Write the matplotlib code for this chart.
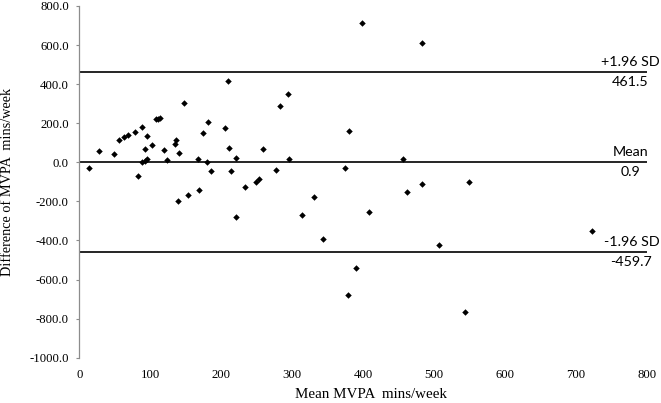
import numpy as np
import matplotlib
matplotlib.use("Agg")
import matplotlib.pyplot as plt

# Bland-Altman points: mean of the two methods vs their difference
mean_mvpa = [14, 28, 49, 56, 63, 68, 78, 83, 89, 88, 92, 92, 95, 95, 103,
             108, 111, 114, 119, 123, 148, 135, 137, 141, 168, 174, 182, 180,
             185, 206, 209, 211, 214, 221, 233, 249, 254, 259, 278, 283, 294,
             296, 331, 139, 153, 169, 221, 314, 343, 399, 483, 380, 374, 457,
             462, 483, 550, 409, 723, 507, 390, 379, 544]
diff_mvpa = [-31, 56, 41, 114, 128, 138, 155, -70, 179, 0, 68, 7, 17, 133, 87,
             220, 223, 227, 63, 12, 302, 94, 116, 46, 17, 150, 208, 0,
             -46, 174, 418, 75, -46, 24, -128, -99, -85, 70, -41, 290, 348,
             17, -176, -198, -169, -140, -280, -268, -391, 713, 609, 162, -31, 17,
             -154, -113, -101, -256, -350, -425, -543, -681, -768]

bias = 0.9
upper = 461.5
lower = -459.7

fig = plt.figure(figsize=(6.61, 4.03), dpi=100)
ax = fig.add_axes([79.3 / 661, 1 - 357.7 / 403, 567.4 / 661, 351.7 / 403])

serif = "Liberation Serif"
sans = "Lato"

ax.plot(mean_mvpa, diff_mvpa, "D", color="black", ms=3.3, mew=0)
for v in (upper, bias, lower):
    ax.axhline(v, color="black", lw=1.2)

ax.set_xlim(0, 800)
ax.set_ylim(-1000, 800)
ax.set_xticks(np.arange(0, 801, 100))
ax.set_yticks(np.arange(-1000, 801, 200))
ax.set_yticklabels([f"{t:.1f}" for t in np.arange(-1000, 801, 200)])

for s in ("top", "right", "bottom"):
    ax.spines[s].set_visible(False)
ax.spines["left"].set_color("#8c8c8c")
ax.spines["left"].set_linewidth(0.9)
ax.tick_params(axis="y", length=2.5, width=0.8, color="#8c8c8c", pad=5,
               labelsize=9.2)
ax.tick_params(axis="x", length=0, pad=8, labelsize=9.2)
for lab in ax.get_xticklabels() + ax.get_yticklabels():
    lab.set_fontfamily(serif)

fig.text(371 / 661, 1 - 394 / 403, "Mean MVPA  mins/week", ha="center",
         va="center", fontsize=10.8, family=serif)
fig.text(8 / 661, 1 - 182 / 403, "Difference of MVPA  mins/week",
         rotation=90, ha="center", va="center", fontsize=10.3, family=serif)

# labels at the right end of the lines (pixel offsets from axes right edge)
labels = [("+1.96 SD", upper, 13, 10), ("461.5", upper, 1.5, -10),
          ("Mean", bias, 2, 10), ("0.9", bias, -6, -10),
          ("-1.96 SD", lower, 13, 10), ("-459.7", lower, 5.5, -10)]
for txt, yv, dx, dy in labels:
    ax.annotate(txt, xy=(800, yv), xytext=(dx * 0.72, dy * 0.72),
                textcoords="offset points", ha="right", va="center",
                fontsize=10.3, family=sans, annotation_clip=False)

fig.savefig("out.png", dpi=100)
